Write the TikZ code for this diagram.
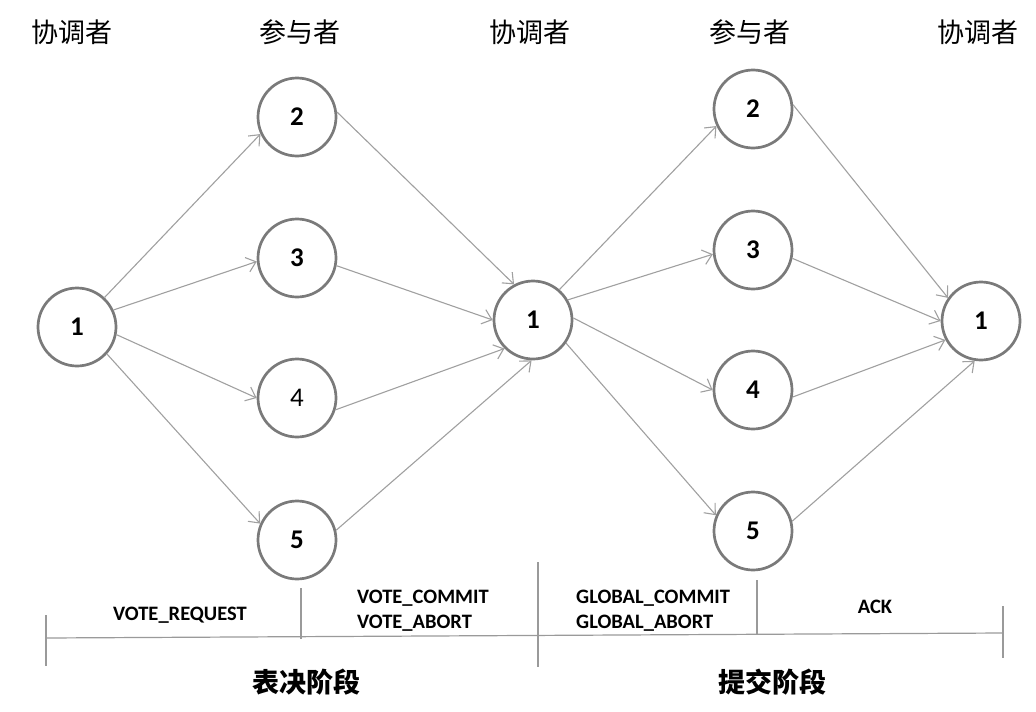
\documentclass[tikz,border=0pt]{standalone}
\usepackage{fontspec}
\setmainfont{Carlito}
\newfontfamily\cjk{Noto Sans CJK SC}
\usetikzlibrary{arrows.meta}
\definecolor{RingGray}{HTML}{7A7A7A}
\definecolor{WireGray}{HTML}{A0A0A0}
\definecolor{RuleGray}{HTML}{9A9A9A}

\begin{document}
\begin{tikzpicture}[x=1pt,y=-1pt,
  every node/.style={font=\fontsize{20.5}{25}\selectfont\bfseries,align=left,inner sep=0pt},
  party/.style={draw=RingGray,line width=2.7pt,circle,minimum size=78pt,fill=white,font=\fontsize{27}{30}\selectfont\bfseries},
  msg/.style={draw=WireGray,line width=1.1pt,-{Straight Barb[length=9pt,width=15pt]}},
  role/.style={font=\cjk\fontsize{27}{32}\selectfont},
  phase/.style={font=\cjk\bfseries\fontsize{27}{32}\selectfont},
  rule/.style={draw=RuleGray,line width=1.2pt}]
  \useasboundingbox (0,0) rectangle (1036,712);
  % roles on top
  \node[role] (ra) at (72,32) {协调者};
  \node[role] (rb) at (300,32) {参与者};
  \node[role] (rc) at (530,32) {协调者};
  \node[role] (rd) at (750,32) {参与者};
  \node[role] (re) at (978,32) {协调者};
  % vote phase
  \node[party] (c1) at (77,327) {1};
  \node[party] (p2a) at (297,117) {2};
  \node[party] (p3a) at (297,258) {3};
  \node[party,font=\fontsize{27}{30}\selectfont] (p4a) at (297,398) {4};
  \node[party] (p5a) at (297,540) {5};
  \node[party] (c2) at (533,320) {1};
  % commit phase
  \node[party] (p2b) at (753,109) {2};
  \node[party] (p3b) at (753,250) {3};
  \node[party] (p4b) at (753,390) {4};
  \node[party] (p5b) at (753,531) {5};
  \node[party] (c3) at (981,321) {1};
  \draw[msg] (c1.47) -- (p2a.205);
  \draw[msg] (c1.25) -- (p3a.185);
  \draw[msg] (c1.349) -- (p4a.180);
  \draw[msg] (c1.318) -- (p5a.156);
  \draw[msg] (p2a.7) -- (c2.118);
  \draw[msg] (p3a.349) -- (c2.180);
  \draw[msg] (p4a.343) -- (c2.225);
  \draw[msg] (p5a.14) -- (c2.268);
  \draw[msg] (c2.49) -- (p2b.205);
  \draw[msg] (c2.30) -- (p3b.186);
  \draw[msg] (c2.3) -- (p4b.180);
  \draw[msg] (c2.325) -- (p5b.157);
  \draw[msg] (p2b.6) -- (c3.145);
  \draw[msg] (p3b.348) -- (c3.180);
  \draw[msg] (p4b.350) -- (c3.208);
  \draw[msg] (p5b.14) -- (c3.261);
  % time line
  \draw[rule] (46,638) -- (1003,633);
  \draw[rule] (46,615) -- (46,666);
  \draw[rule] (301,588) -- (301,639);
  \draw[rule] (538,562) -- (538,667);
  \draw[rule] (757,580) -- (757,634);
  \draw[rule] (1003,606) -- (1003,658);
  \node (req) at (180,615) {VOTE\_REQUEST};
  \node[anchor=west] (vote) at (357,611) {VOTE\_COMMIT\\VOTE\_ABORT};
  \node[anchor=west] (glob) at (576,611) {GLOBAL\_COMMIT\\GLOBAL\_ABORT};
  \node (ack) at (875,607) {ACK};
  \node[phase] (vp) at (306,682) {表决阶段};
  \node[phase] (cp) at (772,682) {提交阶段};
\end{tikzpicture}
\end{document}
